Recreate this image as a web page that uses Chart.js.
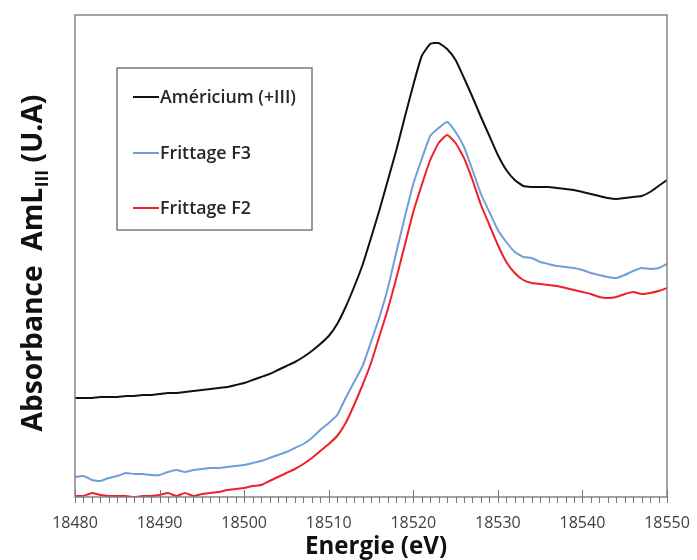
<!DOCTYPE html>
<html>
<head>
<meta charset="utf-8">
<script src="https://cdn.jsdelivr.net/npm/chart.js@4"></script>
<style>
  html, body { margin: 0; padding: 0; background: #fff; }
  #wrap { width: 697px; height: 560px; }
</style>
</head>
<body>
<div id="wrap"><canvas id="xanesChart"></canvas></div>
<script>
// energies (eV), one point per eV
const energy = [
  18480, 18481, 18482, 18483, 18484, 18485, 18486, 18487, 18488, 18489,
  18490, 18491, 18492, 18493, 18494, 18495, 18496, 18497, 18498, 18499,
  18500, 18501, 18502, 18503, 18504, 18505, 18506, 18507, 18508, 18509,
  18510, 18511, 18512, 18513, 18514, 18515, 18516, 18517, 18518, 18519,
  18520, 18521, 18522, 18523, 18524, 18525, 18526, 18527, 18528, 18529,
  18530, 18531, 18532, 18533, 18534, 18535, 18536, 18537, 18538, 18539,
  18540, 18541, 18542, 18543, 18544, 18545, 18546, 18547, 18548, 18549,
  18550
];

// absorbance (arbitrary units)
const americium = [
  0.99, 0.99, 0.99, 1.00, 1.00, 1.00, 1.01, 1.01, 1.02, 1.02,
  1.03, 1.04, 1.04, 1.05, 1.06, 1.07, 1.08, 1.09, 1.10, 1.12,
  1.14, 1.17, 1.20, 1.23, 1.27, 1.31, 1.35, 1.40, 1.46, 1.53,
  1.61, 1.73, 1.90, 2.10, 2.32, 2.59, 2.87, 3.17, 3.47, 3.80,
  4.12, 4.41, 4.53, 4.54, 4.48, 4.37, 4.19, 4.00, 3.80, 3.61,
  3.42, 3.27, 3.17, 3.11, 3.10, 3.10, 3.10, 3.09, 3.08, 3.07,
  3.05, 3.03, 3.01, 2.99, 2.98, 2.99, 3.00, 3.01, 3.05, 3.11,
  3.17
];

const frittageF3 = [
  0.20, 0.21, 0.17, 0.16, 0.19, 0.21, 0.24, 0.23, 0.23, 0.22,
  0.22, 0.25, 0.27, 0.25, 0.27, 0.28, 0.29, 0.29, 0.30, 0.31,
  0.32, 0.34, 0.36, 0.39, 0.42, 0.45, 0.49, 0.53, 0.59, 0.67,
  0.74, 0.82, 0.99, 1.15, 1.31, 1.55, 1.80, 2.09, 2.45, 2.80,
  3.13, 3.38, 3.61, 3.69, 3.75, 3.65, 3.50, 3.27, 3.03, 2.85,
  2.67, 2.55, 2.45, 2.40, 2.39, 2.35, 2.33, 2.31, 2.30, 2.29,
  2.27, 2.24, 2.22, 2.20, 2.19, 2.22, 2.26, 2.29, 2.28, 2.29,
  2.33
];

const frittageF2 = [
  0.01, 0.01, 0.04, 0.02, 0.01, 0.01, 0.01, 0.00, 0.01, 0.01,
  0.02, 0.04, 0.01, 0.04, 0.01, 0.03, 0.04, 0.05, 0.07, 0.08,
  0.09, 0.11, 0.12, 0.16, 0.20, 0.24, 0.28, 0.33, 0.39, 0.46,
  0.53, 0.61, 0.74, 0.92, 1.12, 1.34, 1.61, 1.88, 2.19, 2.52,
  2.85, 3.12, 3.37, 3.54, 3.62, 3.54, 3.39, 3.17, 2.92, 2.72,
  2.52, 2.35, 2.24, 2.17, 2.14, 2.13, 2.12, 2.11, 2.09, 2.07,
  2.05, 2.03, 2.00, 1.99, 2.00, 2.03, 2.05, 2.03, 2.04, 2.06,
  2.09
];

const seriesNames = ['Américium (+III)', 'Frittage F3', 'Frittage F2'];
const seriesColors = ['#111111', '#6f9fd8', '#f0202a'];
const xTickLabels = ['18480', '18490', '18500', '18510', '18520', '18530', '18540', '18550'];

const pts = arr => arr.map((v, i) => ({ x: energy[i], y: v }));

// pick a font size so that text fills a target width
function fitFont(ctx, text, weight, target) {
  ctx.font = weight + ' 20px "Open Sans"';
  return 20 * target / ctx.measureText(text).width;
}

const decor = {
  id: 'decor',
  afterDraw(chart) {
    const { ctx, chartArea: a, scales: { x } } = chart;
    ctx.save();
    // frame around plot
    ctx.strokeStyle = '#858585';
    ctx.lineWidth = 1.5;
    ctx.strokeRect(a.left, a.top, a.right - a.left, a.bottom - a.top);

    // x ticks: minor every eV, major every 10 eV crossing the axis
    ctx.lineWidth = 1;
    ctx.strokeStyle = '#777';
    for (let v = energy[0]; v <= energy[energy.length - 1]; v++) {
      const px = Math.round(x.getPixelForValue(v)) + 0.5;
      const major = v % 10 === 0;
      ctx.beginPath();
      ctx.moveTo(px, major ? a.bottom - 7 : a.bottom);
      ctx.lineTo(px, a.bottom + 6);
      ctx.stroke();
    }

    // legend box inside the plot
    ctx.fillStyle = '#fff';
    ctx.fillRect(117, 68, 195, 162);
    ctx.strokeStyle = '#7a7a7a';
    ctx.lineWidth = 1.5;
    ctx.strokeRect(117, 68, 195, 162);
    const rows = [97, 153, 208];
    const lsize = fitFont(ctx, seriesNames[0], '600', 136);
    ctx.font = '600 ' + lsize.toFixed(1) + 'px "Open Sans"';
    ctx.textBaseline = 'middle';
    chart.data.datasets.forEach((ds, i) => {
      ctx.strokeStyle = ds.borderColor;
      ctx.lineWidth = 2;
      ctx.beginPath();
      ctx.moveTo(133, rows[i]);
      ctx.lineTo(159, rows[i]);
      ctx.stroke();
      ctx.fillStyle = '#262626';
      ctx.fillText(ds.label, 160, rows[i] + 1);
    });

    // x axis title
    ctx.fillStyle = '#111';
    const xsize = fitFont(ctx, 'Energie (eV)', 'bold', 142);
    ctx.font = 'bold ' + xsize.toFixed(1) + 'px "Open Sans"';
    ctx.textAlign = 'center';
    ctx.textBaseline = 'middle';
    ctx.fillText('Energie (eV)', 376, 547);

    // y axis title with subscript
    const main1 = 'Absorbance  AmL', sub = 'III', main2 = ' (U.A)';
    let size = 24;
    ctx.font = 'bold ' + size + 'px "Open Sans"';
    const w1 = ctx.measureText(main1).width, w3 = ctx.measureText(main2).width;
    ctx.font = 'bold ' + Math.round(size * 0.62) + 'px "Open Sans"';
    const w2 = ctx.measureText(sub).width;
    const k = 337 / (w1 + w2 + w3);
    size = size * k;
    ctx.translate(34, 263);
    ctx.rotate(-Math.PI / 2);
    ctx.textAlign = 'left';
    ctx.textBaseline = 'alphabetic';
    let cx = -337 / 2;
    ctx.font = 'bold ' + size.toFixed(1) + 'px "Open Sans"';
    ctx.fillText(main1, cx, 8);
    cx += w1 * k;
    ctx.font = 'bold ' + (size * 0.62).toFixed(1) + 'px "Open Sans"';
    ctx.fillText(sub, cx, 14);
    cx += w2 * k;
    ctx.font = 'bold ' + size.toFixed(1) + 'px "Open Sans"';
    ctx.fillText(main2, cx, 8);
    ctx.restore();
  }
};

new Chart(document.getElementById('xanesChart'), {
  type: 'line',
  data: {
    datasets: [
      { label: seriesNames[0], data: pts(americium), borderColor: seriesColors[0] },
      { label: seriesNames[1], data: pts(frittageF3), borderColor: seriesColors[1] },
      { label: seriesNames[2], data: pts(frittageF2), borderColor: seriesColors[2] }
    ]
  },
  options: {
    responsive: true,
    maintainAspectRatio: false,
    animation: false,
    layout: { padding: { left: 75, right: 30, top: 15, bottom: 0 } },
    elements: {
      point: { radius: 0 },
      line: { borderWidth: 2, tension: 0.15, fill: false }
    },
    plugins: {
      legend: { display: false },
      tooltip: { enabled: false }
    },
    scales: {
      x: {
        type: 'linear',
        min: 18480,
        max: 18550,
        afterFit: s => { s.height = 63; s.paddingLeft = 0; s.paddingRight = 0; },
        grid: { display: false, drawTicks: false },
        border: { display: false },
        ticks: {
          stepSize: 10,
          autoSkip: false,
          maxRotation: 0,
          padding: 17,
          color: '#404040',
          font: { family: 'Open Sans', size: 16 },
          callback: v => xTickLabels.includes(String(v)) ? String(v) : ''
        }
      },
      y: {
        display: false,
        min: 0,
        max: 4.82
      }
    }
  },
  plugins: [decor]
});
</script>
</body>
</html>
